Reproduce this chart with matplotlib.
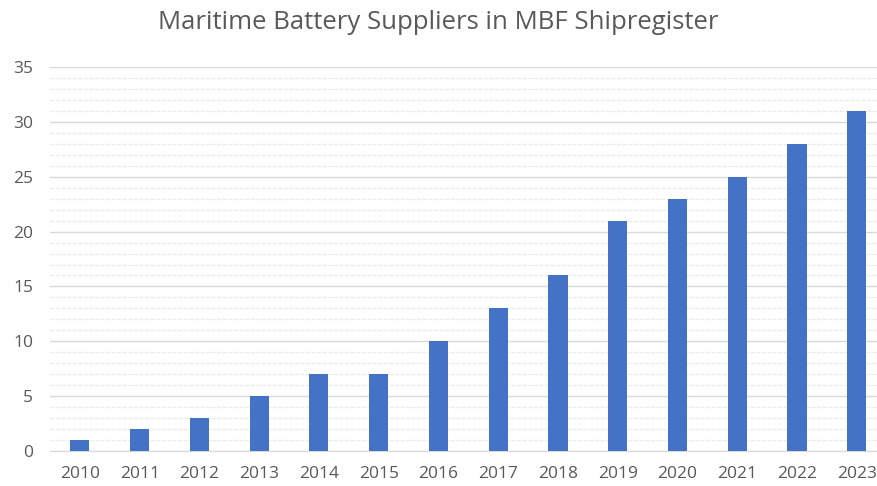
import numpy as np
import matplotlib.pyplot as plt

years = ["2010", "2011", "2012", "2013", "2014", "2015", "2016",
         "2017", "2018", "2019", "2020", "2021", "2022", "2023"]
suppliers = [1, 2, 3, 5, 7, 7, 10, 13, 16, 21, 23, 25, 28, 31]

plt.rcParams['font.family'] = ['Open Sans', 'DejaVu Sans']

fig = plt.figure(figsize=(8.77, 4.86), dpi=100)
ax = fig.add_axes([0.057, 0.072, 0.954, 0.790])

x = np.arange(len(years))
ax.bar(x, suppliers, width=0.32, color="#4472c4", zorder=3)

ax.set_xlim(-0.5, len(years) - 0.5)
ax.set_ylim(0, 35)
ax.set_yticks(np.arange(0, 36, 5))
ax.set_yticks(np.arange(0, 36, 1), minor=True)
ax.set_xticks(x)
ax.set_xticklabels(years)

ax.grid(axis="y", which="major", color="#d9d9d9", linewidth=1.0, zorder=0)
ax.grid(axis="y", which="minor", color="#ececec", linewidth=1.0,
        linestyle=(0, (3, 1)), zorder=0)

for s in ["top", "right", "left"]:
    ax.spines[s].set_visible(False)
ax.spines["bottom"].set_color("#d9d9d9")

ax.tick_params(axis="both", which="both", length=0, colors="#595959",
               labelsize=12.5)
ax.tick_params(axis="x", pad=11)
ax.tick_params(axis="y", pad=12)

fig.text(0.5, 0.953, "Maritime Battery Suppliers in MBF Shipregister",
         ha="center", va="center", fontsize=18.5, color="#595959")

fig.savefig("out.png", dpi=100)
